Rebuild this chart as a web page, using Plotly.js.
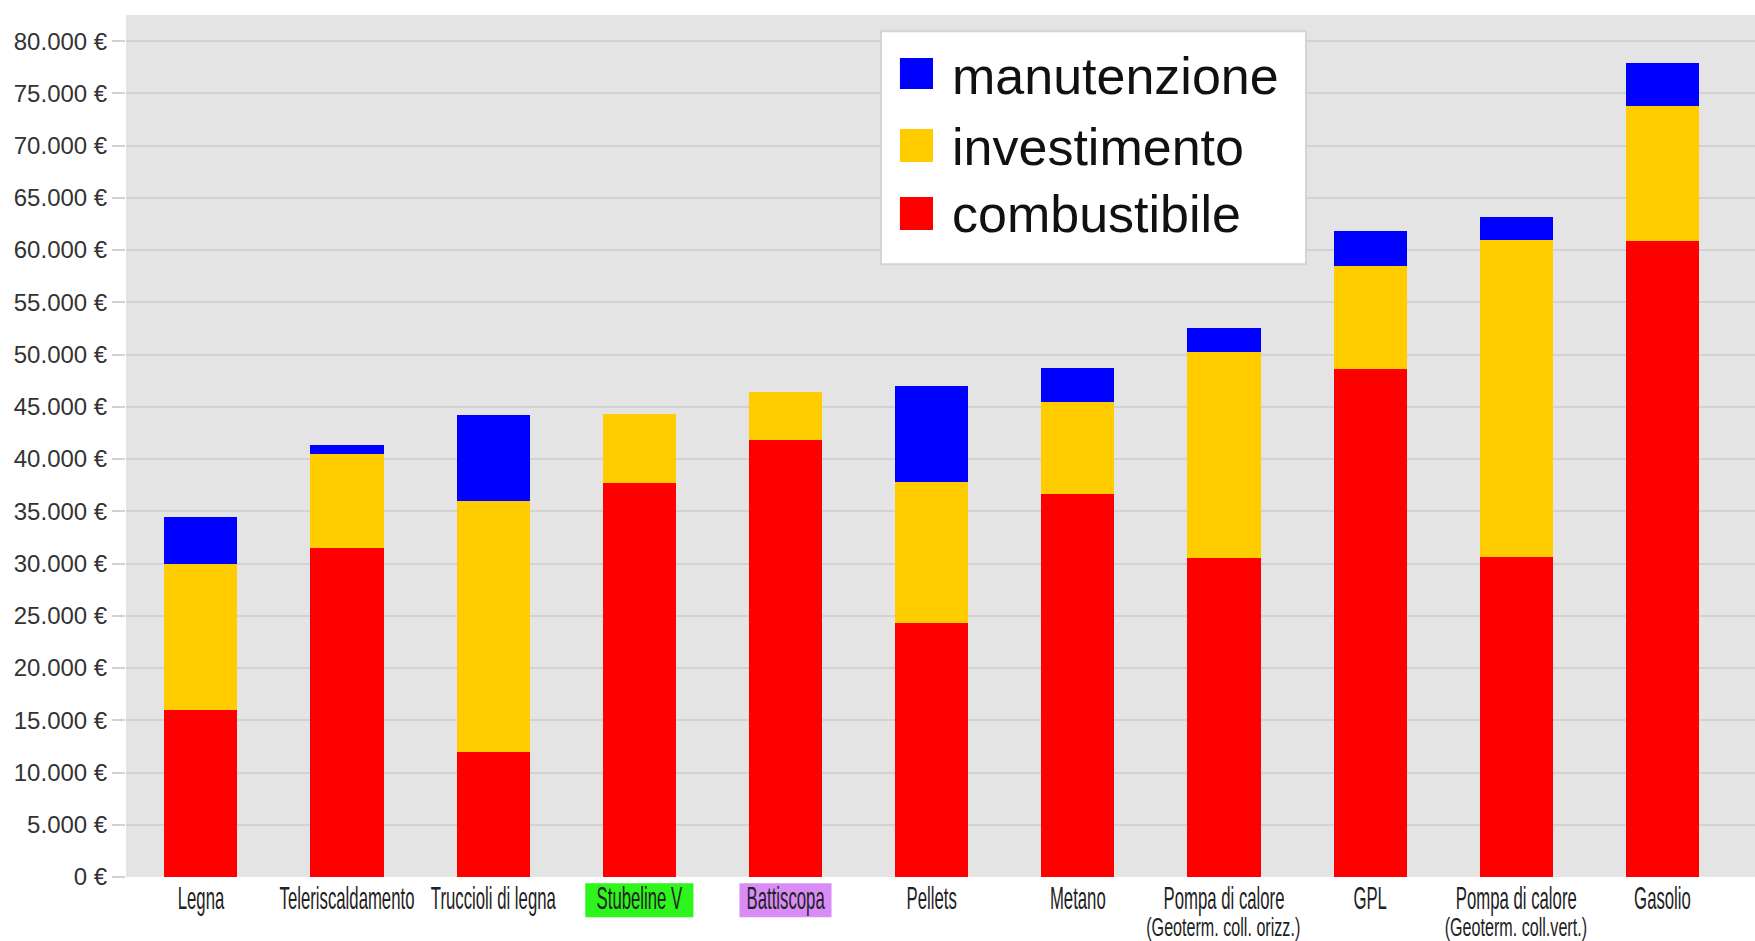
<!DOCTYPE html>
<html>
<head>
<meta charset="utf-8">
<script src="https://cdn.plot.ly/plotly-3.0.1.min.js"></script>
<style>
html, body { margin: 0; padding: 0; background: #ffffff; }
#chart { width: 1755px; height: 941px; }
</style>
</head>
<body>
<div id="chart"></div>
<script>
// ---- data ----
const categories = ['Legna', 'Teleriscaldamento', 'Truccioli di legna', 'Stubeline V', 'Battiscopa', 'Pellets', 'Metano',
  'Pompa di calore (Geoterm. coll. orizz.)', 'GPL', 'Pompa di calore (Geoterm. coll.vert.)', 'Gasolio'];
const tickLabels = ['Legna', 'Teleriscaldamento', 'Truccioli di legna', 'Stubeline V', 'Battiscopa', 'Pellets', 'Metano',
  'Pompa di calore', 'GPL', 'Pompa di calore', 'Gasolio'];
const subLabels = ['', '', '', '', '', '', '', '(Geoterm. coll. orizz.)', '', '(Geoterm. coll.vert.)', ''];
const combustibile = [16000, 31500, 12000, 37700, 41800, 24300, 36700, 30500, 48600, 30600, 60900];
const investimento = [14000, 9000, 24000, 6600, 4600, 13500, 8800, 19700, 9900, 30400, 12900];
const manutenzione = [4500, 800, 8200, 0, 0, 9200, 3200, 2300, 3300, 2200, 4100];
const seriesNames = ['manutenzione', 'investimento', 'combustibile'];
const seriesColors = ['#0000ff', '#ffcc00', '#ff0000'];
const highlightLabels = ['Stubeline V', 'Battiscopa'];
const highlightColors = ['#2ef51c', '#d98cf5'];

// ---- layout helpers ----
const xRange = [-0.512, 10.633];
const xPaper = v => (v - xRange[0]) / (xRange[1] - xRange[0]);
const font = 'Liberation Sans, Arial, Helvetica, sans-serif';

const traces = [
  { name: seriesNames[2], y: combustibile, color: seriesColors[2] },
  { name: seriesNames[1], y: investimento, color: seriesColors[1] },
  { name: seriesNames[0], y: manutenzione, color: seriesColors[0] }
].map(s => ({
  type: 'bar', x: categories, y: s.y, name: s.name,
  marker: { color: s.color, line: { width: 0 } },
  showlegend: false, hoverinfo: 'x+y+name'
}));

const shapes = [];
const annotations = [];

// highlight boxes behind two category labels
const halfWidths = [0.37, 0.315];
highlightLabels.forEach((lab, k) => {
  const i = categories.indexOf(lab);
  shapes.push({
    type: 'rect', xref: 'paper', yref: 'paper', layer: 'below',
    x0: xPaper(i - halfWidths[k]), x1: xPaper(i + halfWidths[k]),
    y0: -0.0466, y1: -0.0073,
    fillcolor: highlightColors[k], line: { width: 0 }
  });
});

// second line of labels
subLabels.forEach((s, i) => {
  if (!s) return;
  annotations.push({
    xref: 'x', yref: 'paper', x: categories[i], y: -0.0584, yanchor: 'middle', xanchor: 'center',
    text: s, showarrow: false, font: { family: font, size: 26, color: '#222222' }
  });
});

// custom legend box
shapes.push({
  type: 'rect', xref: 'paper', yref: 'paper', layer: 'above',
  x0: 0.4635, x1: 0.7244, y0: 0.7108, y1: 0.9811,
  fillcolor: '#ffffff', line: { color: '#d4d4d4', width: 2 }
});
const legRows = [[0.9501, 0.9141, 0.9292], [0.8677, 0.8294, 0.8468], [0.7888, 0.7505, 0.7691]];
seriesNames.forEach((n, k) => {
  shapes.push({
    type: 'rect', xref: 'paper', yref: 'paper', layer: 'above',
    x0: 0.4751, x1: 0.4954, y0: legRows[k][1], y1: legRows[k][0],
    fillcolor: seriesColors[k], line: { width: 0 }
  });
  annotations.push({
    xref: 'paper', yref: 'paper', x: 0.5058, y: legRows[k][2], xanchor: 'left', yanchor: 'middle',
    text: n, showarrow: false, font: { family: font, size: 52, color: '#111111' }
  });
});

const layout = {
  width: 1755, height: 941,
  margin: { l: 126, r: 0, t: 15, b: 64, pad: 0 },
  paper_bgcolor: '#ffffff', plot_bgcolor: '#e4e4e4',
  barmode: 'stack', bargap: 0.5,
  separators: ',.',
  showlegend: false,
  xaxis: {
    type: 'category', range: xRange, tickmode: 'array', tickvals: categories, ticktext: tickLabels,
    tickangle: 0, tickfont: { family: font, size: 31, color: '#222222' }, showgrid: false, ticks: '', zeroline: false,
    showline: false, fixedrange: true
  },
  yaxis: {
    range: [0, 82500], tick0: 0, dtick: 5000, tickformat: ',.0f', ticksuffix: ' €',
    tickfont: { family: font, size: 24, color: '#333333' },
    gridcolor: '#d2d2d2', gridwidth: 2, ticks: 'outside', ticklen: 13, tickcolor: '#d2d2d2', tickwidth: 2,
    zeroline: false, showline: false, fixedrange: true
  },
  shapes: shapes,
  annotations: annotations
};

Plotly.newPlot('chart', traces, layout, { displayModeBar: false, staticPlot: true }).then(gd => {
  const squeeze = (el, s) => {
    const b = el.getBBox();
    const cx = b.x + b.width / 2;
    const t = el.getAttribute('transform') || '';
    el.setAttribute('transform', t + ' translate(' + cx + ',0) scale(' + s + ',1) translate(' + (-cx) + ',0)');
  };
  gd.querySelectorAll('.xtick text').forEach(el => squeeze(el, 0.54));
  gd.querySelectorAll('.annotation-text').forEach(el => {
    if (el.textContent.charAt(0) === '(') squeeze(el, 0.62);
  });
});
</script>
</body>
</html>
